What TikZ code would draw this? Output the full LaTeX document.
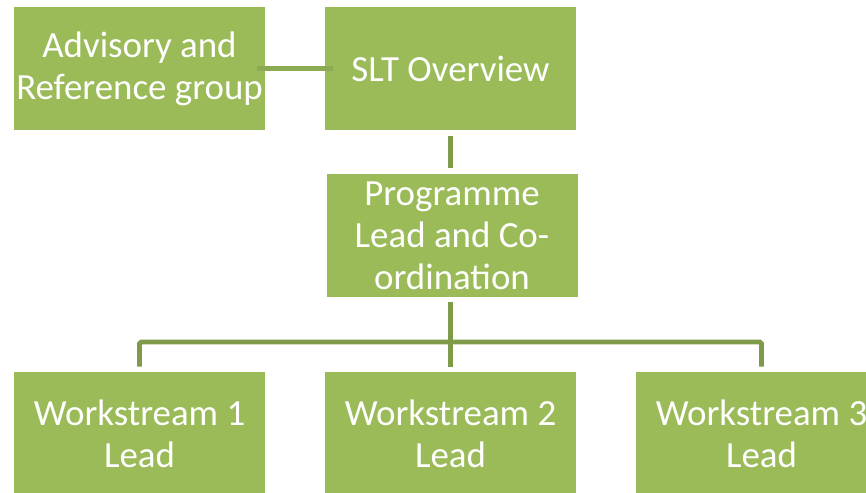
\documentclass[tikz,border=0pt]{standalone}
\usepackage{fontspec}
\setmainfont{Carlito}
\usetikzlibrary{calc}

\definecolor{boxgreen}{HTML}{9BBB59}
\definecolor{linegreen}{HTML}{7F9A48}
\definecolor{toplink}{HTML}{8CAA52}

\tikzset{
	orgbox/.style={fill=boxgreen, text=white, minimum width=5.02cm, minimum height=2.46cm,
		align=center, inner sep=0pt, font=\fontsize{21}{23.8}\selectfont},
	conn/.style={draw=linegreen, line width=2.8pt, rounded corners=1pt}
}

\begin{document}
\begin{tikzpicture}

\useasboundingbox (0,0) rectangle (17.32,-9.84);
\clip (0,0) rectangle (17.32,-9.84);

\node[orgbox] (adv) at (2.79,-1.37) {Advisory and\\Reference group};
\node[orgbox] (slt) at (9.01,-1.37) {SLT Overview};
\node[orgbox] (prog) at (9.04,-4.71) {Programme\\Lead and Co-\\ordination};

\foreach \n/\x in {1/2.79,2/9.01,3/15.23}{
	\node[orgbox] (ws\n) at (\x,-8.67) {Workstream \n\\Lead};
}

\draw[draw=toplink, line width=2.4pt, shorten <=-0.16cm, shorten >=-0.16cm] (adv) -- (slt);

\draw[conn] ([yshift=-0.12cm]slt.south) -- ([yshift=0.12cm]slt.south |- prog.north);

\coordinate (bus) at (9.01,-6.84);
\draw[conn] (bus |- prog.south) ++(0,-0.1) -- ([yshift=0.1cm]bus |- ws2.north);
\draw[conn] ([yshift=0.1cm]ws1.north) |- (bus) -| ([yshift=0.1cm]ws3.north);

\end{tikzpicture}
\end{document}
